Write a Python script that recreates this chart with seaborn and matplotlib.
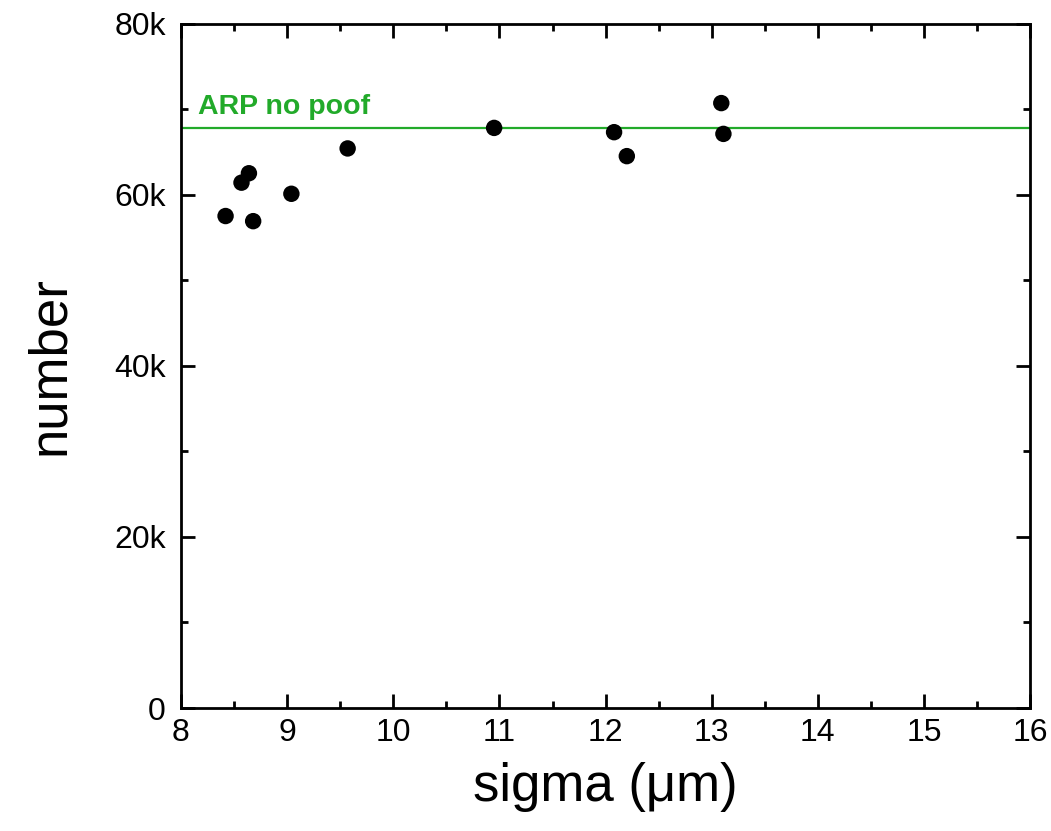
import matplotlib
matplotlib.use('Agg')
import matplotlib.pyplot as plt
import seaborn as sns
import pandas as pd
from matplotlib.ticker import MultipleLocator, FuncFormatter

# data
sigma = [8.42, 8.57, 8.64, 8.68, 9.04, 9.57, 10.95, 12.08, 12.20, 13.09, 13.11]
number = [57500, 61400, 62500, 56900, 60100, 65400, 67800, 67300, 64500, 70700, 67100]
arp_no_poof = 67800

df = pd.DataFrame({'sigma': sigma, 'number': number})

sns.set_style('ticks')
plt.rcParams['font.family'] = ['Liberation Sans', 'DejaVu Sans']

fig = plt.figure(figsize=(10.51, 8.31), dpi=100)
ax = fig.add_axes([0.1722, 0.148, 0.808, 0.8237])

sns.scatterplot(data=df, x='sigma', y='number', ax=ax, color='black',
                s=140, edgecolor='none', zorder=3)

ax.axhline(arp_no_poof, color='#22aa2a', lw=1.6, zorder=2)
ax.text(8.16, arp_no_poof + 900, 'ARP no poof', color='#22aa2a',
        fontsize=20.5, fontweight='bold', va='bottom', ha='left')

ax.set_xlim(8, 16)
ax.set_ylim(0, 80000)
ax.xaxis.set_major_locator(MultipleLocator(1))
ax.xaxis.set_minor_locator(MultipleLocator(0.5))
ax.yaxis.set_major_locator(MultipleLocator(20000))
ax.yaxis.set_minor_locator(MultipleLocator(10000))
ax.yaxis.set_major_formatter(FuncFormatter(lambda v, p: '0' if v == 0 else f'{int(v/1000)}k'))

ax.tick_params(which='both', direction='in', top=True, right=True, width=2,
               labelsize=23, labelcolor='black', color='black')
ax.tick_params(axis='x', which='both', pad=7)
ax.tick_params(axis='y', which='both', pad=11)
ax.tick_params(which='major', length=10)
ax.tick_params(which='minor', length=5)
for sp in ax.spines.values():
    sp.set_linewidth(2)
    sp.set_color('black')

ax.set_xlabel('sigma (μm)', fontsize=38, labelpad=10, color='black')
ax.set_ylabel('number', fontsize=38, labelpad=28, color='black')

plt.savefig('out.png', dpi=100)
plt.close()
